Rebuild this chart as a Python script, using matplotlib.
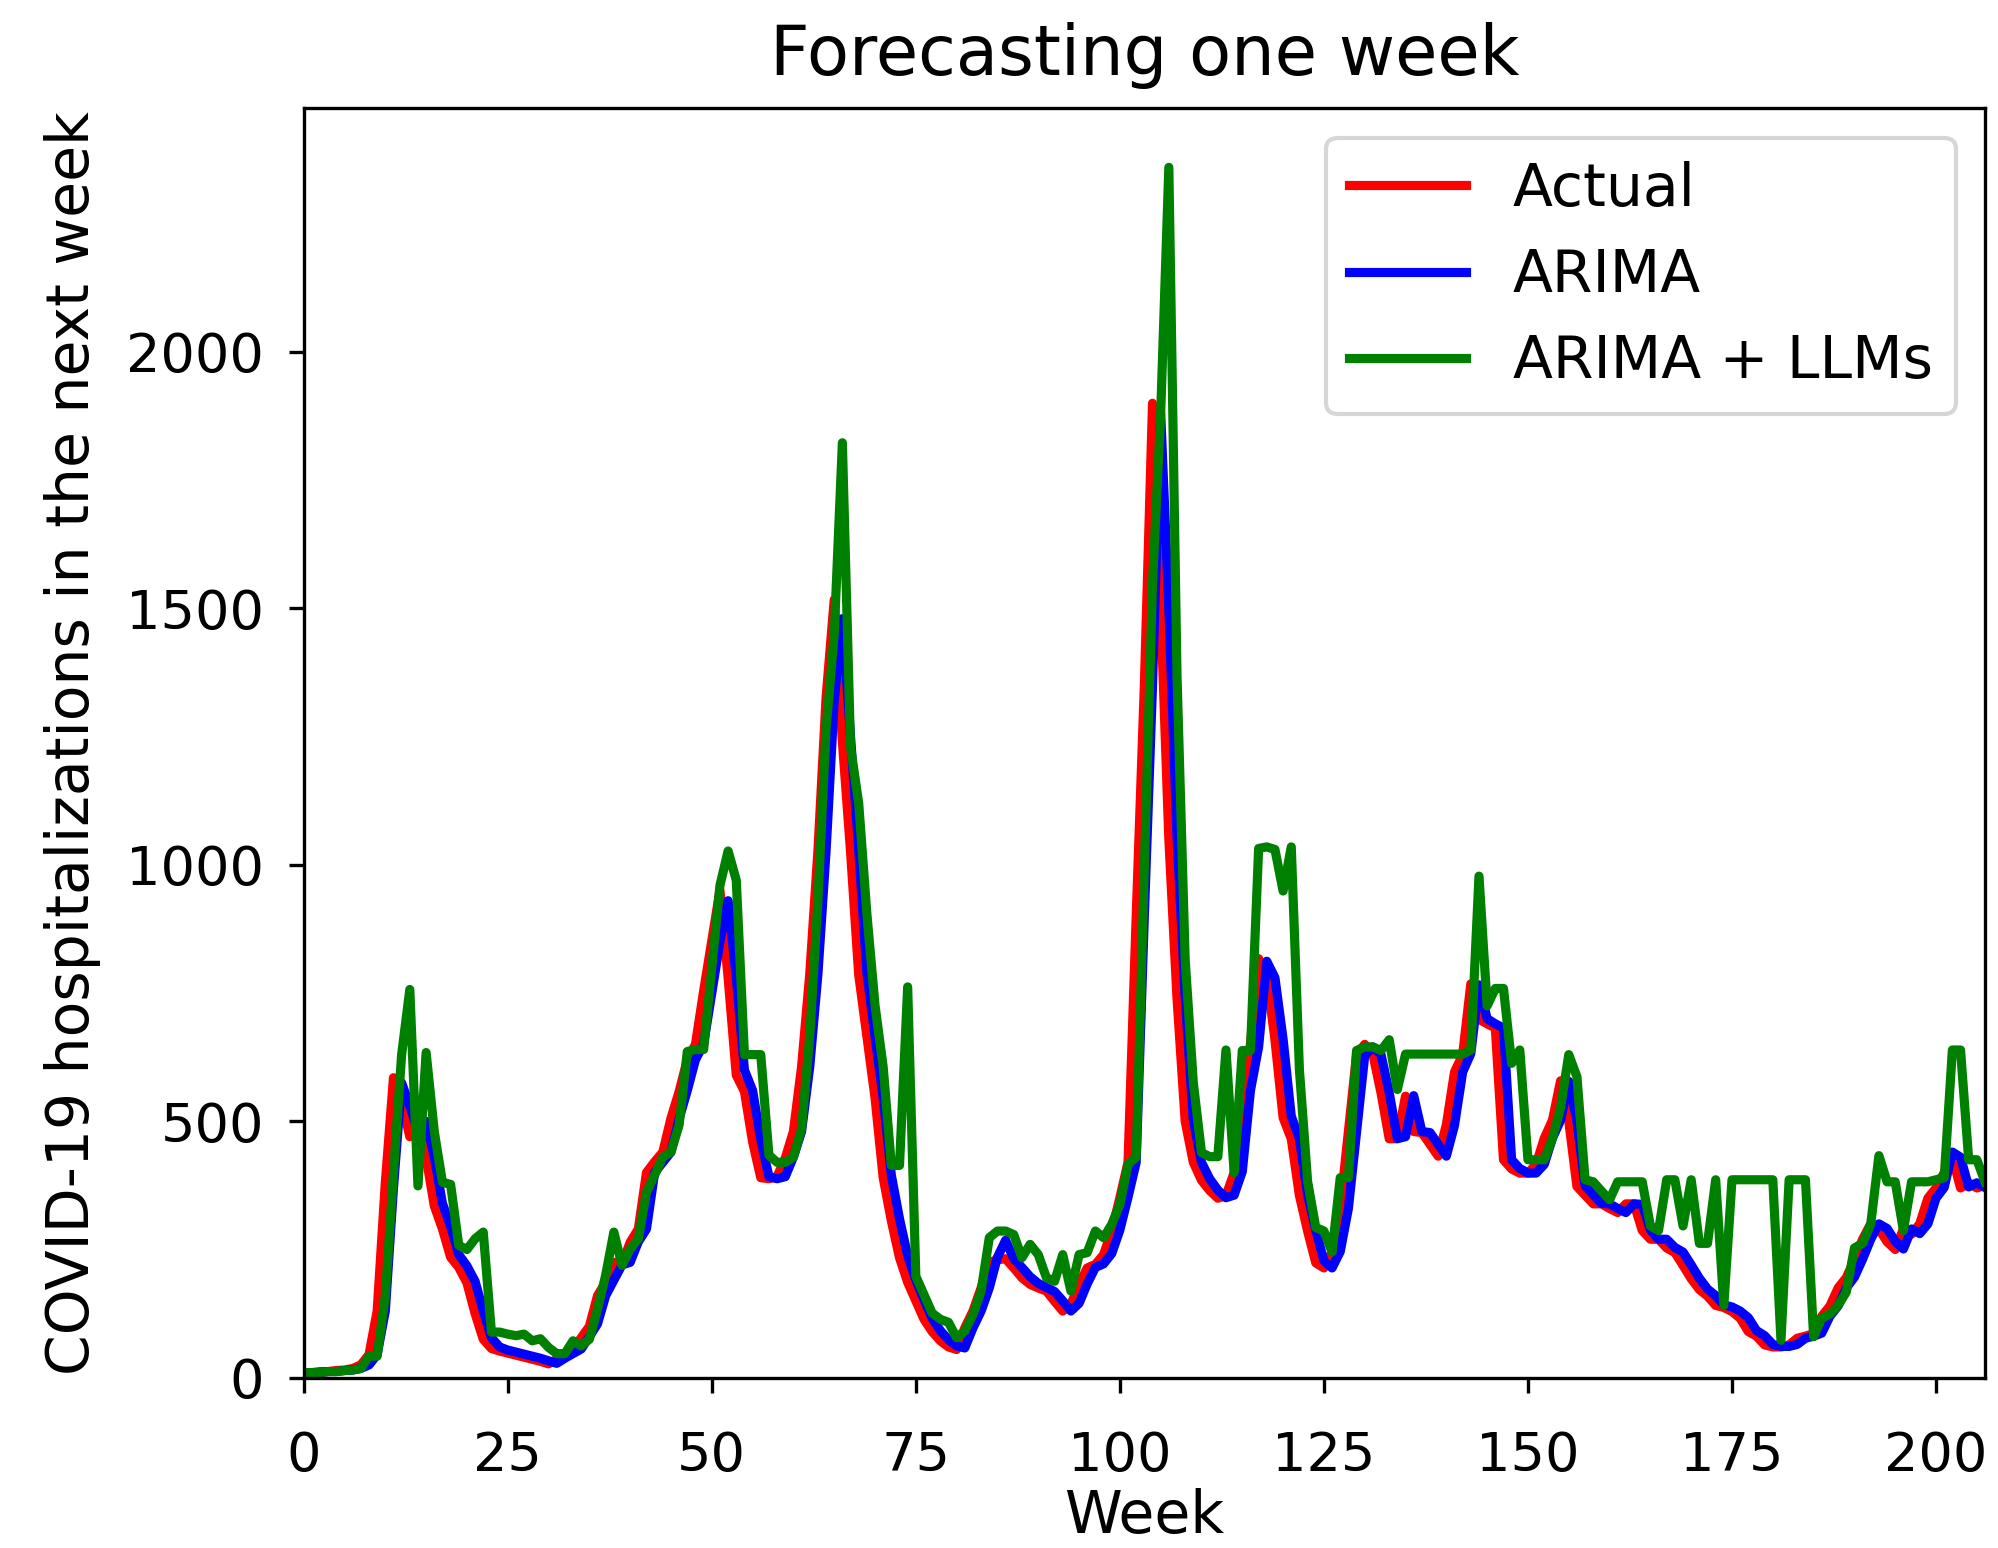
import matplotlib
matplotlib.use("Agg")
import matplotlib.pyplot as plt
import numpy as np

# weekly COVID-19 hospitalisations (week 0 .. 206)
actual = [
    10, 10, 12, 12, 14, 15, 18, 25, 45, 130, 380, 585, 540, 470, 510, 430, 335, 290, 235, 215,
    185, 125, 75, 57, 52, 48, 44, 40, 36, 32, 27, 36, 46, 55, 78, 100, 160, 186, 225, 222,
    264, 290, 400, 421, 440, 506, 558, 620, 650, 754, 852, 950, 780, 590, 558, 460, 390, 388, 392, 428,
    480, 606, 786, 1026, 1325, 1517, 1240, 1026, 786, 666, 546, 390, 306, 234, 186, 150, 114, 90, 72, 60,
    55, 97, 130, 175, 225, 230, 232, 214, 195, 182, 175, 169, 149, 130, 143, 182, 214, 221, 240, 286,
    351, 420, 900, 1350, 1900, 1500, 1050, 740, 500, 420, 385, 365, 350, 355, 400, 560, 650, 817, 783, 659,
    507, 466, 355, 286, 224, 214, 245, 330, 480, 630, 650, 631, 555, 466, 466, 549, 480, 478, 455, 432,
    493, 596, 630, 768, 699, 690, 682, 425, 407, 399, 399, 416, 467, 502, 579, 500, 373, 356, 339, 339,
    330, 322, 339, 339, 287, 270, 270, 253, 244, 219, 193, 172, 159, 141, 137, 129, 116, 90, 81, 64,
    60, 60, 64, 77, 81, 86, 120, 140, 175, 195, 230, 270, 300, 290, 265, 250, 290, 280, 300, 350,
    370, 400, 430, 370, 380, 370, 375,
]

arima = [
    10, 10, 10, 12, 12, 14, 15, 18, 25, 45, 130, 370, 575, 530, 480, 500, 430, 340, 295, 240,
    218, 188, 130, 78, 60, 54, 50, 46, 42, 38, 33, 28, 38, 47, 56, 80, 105, 160, 190, 220,
    225, 265, 290, 400, 420, 440, 505, 560, 620, 650, 750, 850, 930, 780, 600, 560, 465, 392, 388, 392,
    430, 480, 606, 786, 1026, 1320, 1480, 1250, 1030, 790, 665, 545, 395, 310, 238, 190, 152, 116, 92, 74,
    62, 58, 97, 130, 175, 235, 268, 232, 215, 197, 184, 176, 168, 150, 130, 145, 183, 215, 222, 242,
    288, 352, 420, 900, 1350, 1880, 1500, 1055, 742, 502, 420, 388, 366, 351, 356, 402, 560, 645, 812, 780,
    660, 510, 466, 356, 288, 228, 214, 246, 330, 480, 628, 645, 630, 556, 466, 470, 550, 480, 478, 455,
    432, 492, 596, 632, 766, 700, 690, 682, 425, 408, 399, 399, 416, 467, 502, 578, 500, 374, 357, 340,
    339, 330, 322, 339, 338, 288, 270, 270, 254, 245, 220, 194, 173, 160, 142, 138, 130, 117, 92, 82,
    65, 61, 61, 65, 77, 81, 87, 120, 140, 175, 196, 231, 270, 300, 291, 266, 251, 290, 281, 300,
    350, 371, 440, 430, 372, 380, 371,
]

arima_llm = [
    10, 10, 10, 12, 12, 14, 15, 18, 42, 42, 160, 400, 630, 757, 374, 634, 480, 381, 377, 258,
    250, 271, 284, 89, 89, 85, 82, 85, 72, 76, 59, 47, 47, 72, 62, 75, 134, 200, 284, 219,
    251, 271, 362, 395, 430, 440, 493, 636, 640, 640, 800, 960, 1027, 970, 630, 630, 630, 434, 420, 420,
    430, 486, 666, 930, 1265, 1450, 1823, 1230, 1120, 905, 726, 606, 414, 414, 762, 198, 162, 126, 114, 108,
    78, 91, 123, 169, 273, 286, 286, 279, 234, 260, 240, 195, 188, 240, 169, 240, 244, 286, 273, 299,
    338, 416, 430, 1000, 1550, 1880, 2360, 1370, 815, 575, 439, 431, 431, 639, 400, 638, 638, 1032, 1035, 1030,
    949, 1035, 600, 383, 293, 286, 245, 390, 390, 638, 645, 645, 638, 659, 562, 631, 631, 631, 631, 631,
    631, 631, 631, 639, 978, 725, 759, 759, 613, 639, 425, 425, 425, 467, 527, 630, 587, 386, 382, 364,
    347, 382, 382, 382, 382, 296, 287, 386, 386, 296, 386, 262, 262, 386, 141, 386, 386, 386, 386, 386,
    386, 73, 386, 386, 386, 80, 116, 124, 141, 167, 253, 262, 300, 433, 382, 382, 287, 382, 382, 382,
    386, 390, 639, 639, 425, 425, 382,
]

weeks = np.arange(len(actual))

fig = plt.figure(figsize=(6.66, 5.16), dpi=300)
ax = fig.add_axes([0.152, 0.110, 0.8415, 0.820])

ax.plot(weeks, actual, color="red", linewidth=2.2, label="Actual")
ax.plot(weeks, arima, color="blue", linewidth=2.2, label="ARIMA")
ax.plot(weeks, arima_llm, color="green", linewidth=2.2, label="ARIMA + LLMs")

ax.set_xlim(0, 206)
ax.set_ylim(0, 2475)
ax.set_xticks([0, 25, 50, 75, 100, 125, 150, 175, 200])
ax.set_yticks([0, 500, 1000, 1500, 2000])
ax.tick_params(labelsize=13)
ax.tick_params(axis="x", pad=9)
ax.tick_params(axis="y", pad=6)

ax.set_title("Forecasting one week", fontsize=16.5, pad=8)
ax.set_xlabel("Week", fontsize=14, labelpad=1.5)
ax.set_ylabel("COVID-19 hospitalizations in the next week", fontsize=14, labelpad=6)
ax.legend(loc="upper right", fontsize=14)

fig.savefig("out.png", dpi=300)
